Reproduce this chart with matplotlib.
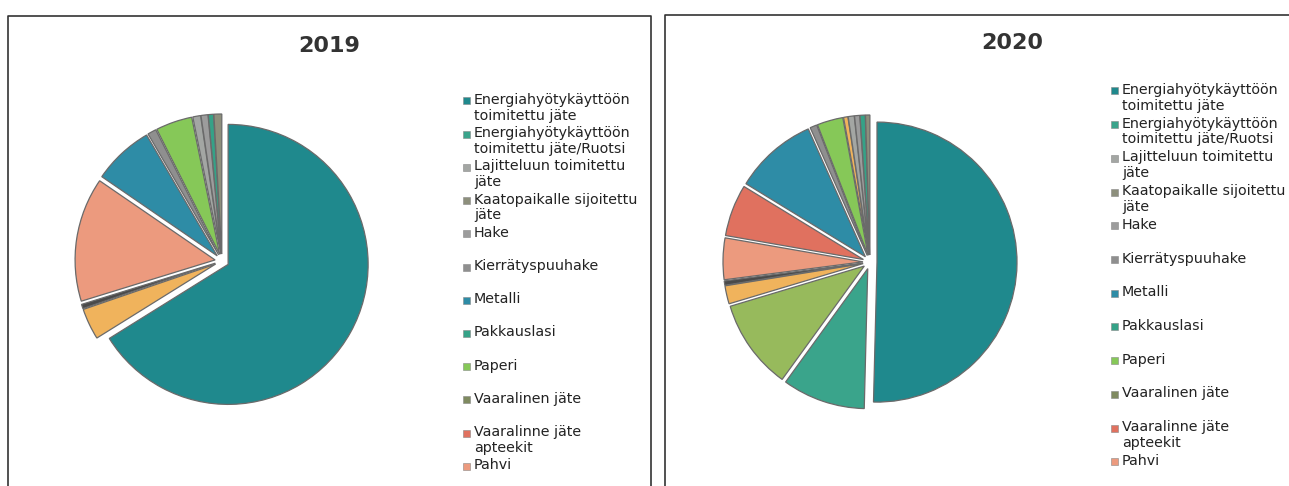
import matplotlib
matplotlib.use("Agg")
import matplotlib.pyplot as plt
from matplotlib.patches import Rectangle
from matplotlib.lines import Line2D

W, H = 1289, 486

# legend entries (same in both charts)
legend_labels = [
    "Energiahyötykäyttöön\ntoimitettu jäte",
    "Energiahyötykäyttöön\ntoimitettu jäte/Ruotsi",
    "Lajitteluun toimitettu\njäte",
    "Kaatopaikalle sijoitettu\njäte",
    "Hake",
    "Kierrätyspuuhake",
    "Metalli",
    "Pakkauslasi",
    "Paperi",
    "Vaaralinen jäte",
    "Vaaralinne jäte\napteekit",
    "Pahvi",
]
legend_colors = ["#1f898d", "#3aa48b", "#a3a6a3", "#8d8f7c", "#9c9c9c", "#8f8f8f",
                 "#2e8ca6", "#35a287", "#86c858", "#7f8a60", "#e0715f", "#ec9a7e"]

# categories cut off from the visible legend
extra_colors = {"muu A": "#f0b35c", "muu B": "#4a4a4a", "muu C": "#97ba5c"}

# slices in drawing order (clockwise from 12 o'clock), values in %
cats_2019 = ["Energiahyötykäyttöön\ntoimitettu jäte", "muu A", "muu B", "Pahvi", "Metalli",
             "Kierrätyspuuhake", "Paperi", "Lajitteluun toimitettu\njäte", "Hake",
             "Pakkauslasi", "Kaatopaikalle sijoitettu\njäte"]
vals_2019 = [66.0, 3.6, 0.5, 14.3, 7.0, 1.0, 4.2, 0.9, 0.8, 0.6, 0.9]

cats_2020 = ["Energiahyötykäyttöön\ntoimitettu jäte", "Energiahyötykäyttöön\ntoimitettu jäte/Ruotsi",
             "muu C", "muu A", "muu B", "Pahvi", "Vaaralinne jäte\napteekit", "Metalli",
             "Kierrätyspuuhake", "Paperi", "muu A", "Lajitteluun toimitettu\njäte", "Hake",
             "Pakkauslasi", "Kaatopaikalle sijoitettu\njäte"]
vals_2020 = [50.5, 9.6, 10.4, 2.1, 0.5, 4.8, 6.0, 9.6, 0.8, 3.0, 0.5, 0.7, 0.6, 0.6, 0.5]

color_map = dict(zip(legend_labels, legend_colors))
color_map.update(extra_colors)


def fx(x):
    return x / W


def fy(y):
    return 1 - y / H


fig = plt.figure(figsize=(W / 100, H / 100), dpi=100)
fig.patch.set_facecolor("white")

# chart frames
for x0, x1, y0 in [(8, 651, 16), (665, 1300, 15)]:
    fig.add_artist(Line2D([fx(x0), fx(x0), fx(x1), fx(x1)], [fy(490), fy(y0), fy(y0), fy(490)],
                          color="#333333", lw=1.2))


def draw_chart(cats, vals, cx, cy, title, tx, ty, lx, ly0, step):
    r = 140
    size = 2.5 * r
    ax = fig.add_axes([fx(cx - size / 2), fy(cy + size / 2), size / W, size / H])
    cols = [color_map[c] for c in cats]
    ax.pie(vals, colors=cols, startangle=90, counterclock=False,
           explode=[0.05] * len(vals),
           wedgeprops=dict(edgecolor="#6a6a6a", linewidth=0.9))
    ax.set_xlim(-1.25, 1.25)
    ax.set_ylim(-1.25, 1.25)
    ax.set_aspect("equal")
    ax.axis("off")
    fig.text(fx(tx), fy(ty), title, ha="center", va="center", fontsize=16,
             fontweight="bold", color="#333333")
    for i, (lab, col) in enumerate(zip(legend_labels, legend_colors)):
        y = ly0 + i * step
        fig.add_artist(Rectangle((fx(lx - 11), fy(y + 3.5)), 7 / W, 7 / H,
                                 transform=fig.transFigure, facecolor=col,
                                 edgecolor="#888888", lw=0.4))
        fig.text(fx(lx), fy(y - 8), lab, ha="left", va="top", fontsize=10.3,
                 color="#222222", linespacing=1.15)


draw_chart(cats_2019, vals_2019, 222, 261, "2019", 329, 46, 474, 101, 33.2)
draw_chart(cats_2020, vals_2020, 870, 262, "2020", 1012, 43, 1122, 91, 33.7)

plt.savefig("out.png", dpi=100)
